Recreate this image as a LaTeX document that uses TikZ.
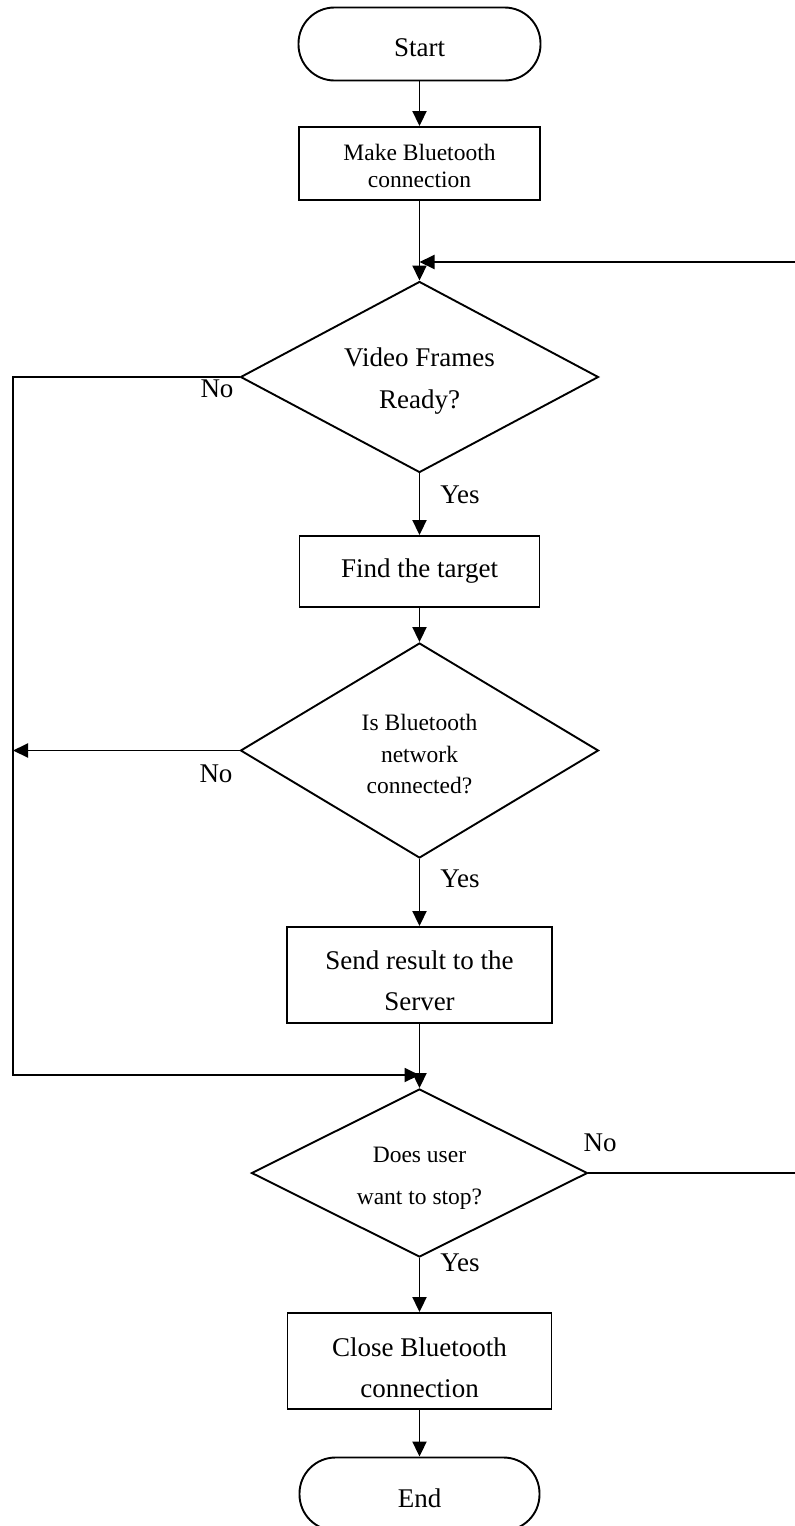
\documentclass[tikz,border=0pt]{standalone}
\usepackage{fontspec}
\setmainfont{Liberation Serif}
\usetikzlibrary{shapes.geometric,arrows.meta}

% invisible strut that sets the height of a node's first text line
\newcommand\firstline[1]{\rule{0pt}{#1}}

\begin{document}
\begin{tikzpicture}[x=1pt,y=-1pt,
  line width=1.9pt,
  flow/.style={-{Triangle[length=15pt,width=14pt]}},
  terminal/.style={draw, rectangle, rounded corners=36pt, minimum width=242pt,
    minimum height=73pt, inner sep=0pt, font=\fontsize{27}{41}\selectfont},
  process/.style={draw, rectangle, inner sep=0pt, align=center,
    font=\fontsize{27}{41}\selectfont},
  decision/.style={draw, diamond, inner sep=0pt, align=center},
  answer/.style={inner sep=0pt, font=\fontsize{27}{32}\selectfont},
]
\useasboundingbox (0,0) rectangle (795,1526);
\clip (0,0) rectangle (795,1526);

% main column
\node[terminal] (start) at (419.5,44) {\firstline{26pt}Start};
\node[process, minimum width=241pt, minimum height=73pt,
  font=\fontsize{23.5}{27}\selectfont] (make) at (419.5,163.5)
  {\firstline{22pt}Make Bluetooth\\connection};
\node[decision, minimum width=358pt, minimum height=191pt, aspect=1.87,
  font=\fontsize{27}{42}\selectfont] (frames) at (419.5,377)
  {\firstline{26.5pt}Video Frames\\Ready?};
\node[process, minimum width=240pt, minimum height=71pt] (find) at (419.5,571.5) {Find the target};
\node[decision, minimum width=358pt, minimum height=215pt, aspect=1.665,
  font=\fontsize{23.5}{31.5}\selectfont] (linked) at (419.5,750.5)
  {\firstline{24pt}Is Bluetooth\\network\\connected?};
\node[process, minimum width=265pt, minimum height=96pt] (send) at (419.5,975)
  {\firstline{30.5pt}Send result to the\\Server};
\node[decision, minimum width=336pt, minimum height=168pt, aspect=2,
  font=\fontsize{23.5}{42}\selectfont] (stop) at (419.5,1173)
  {\firstline{26pt}Does user\\want to stop?};
\node[process, minimum width=264pt, minimum height=96pt] (close) at (419.5,1361)
  {\firstline{32.5pt}Close Bluetooth\\connection};
\node[terminal, minimum width=240pt] (end) at (419.5,1494) {\firstline{26.5pt}End};

% branch labels
\node[answer] (no1) at (217,389) {No};
\node[answer] (yes1) at (460,495) {Yes};
\node[answer] (no2) at (216,774) {No};
\node[answer] (yes2) at (460,879) {Yes};
\node[answer] (no3) at (600,1143) {No};
\node[answer] (yes3) at (460,1263) {Yes};

% junction points and side rails
\coordinate (loopin) at (419.5,262);
\coordinate (merge) at (419.5,1075);
\coordinate (leftrail) at (13,0);
\coordinate (rightrail) at (801,0);

% connectors
\draw[flow] (start.south) -- (make.north);
\draw[flow] (make.south) -- (frames.north);
\draw[flow] (frames.south) -- (find.north);
\draw[flow] (find.south) -- (linked.north);
\draw[flow] (linked.south) -- (send.north);
\draw[flow] (send.south) -- (stop.north);
\draw[flow] (stop.south) -- (close.north);
\draw[flow] (close.south) -- (end.north);
\draw[flow] (stop.east) -- (stop.east -| rightrail) -- (rightrail |- loopin) -- (loopin);
\draw[flow] (frames.west) -- (frames.west -| leftrail) -- (leftrail |- merge) -- (merge);
\draw[flow] (linked.west) -- (linked.west -| leftrail);
\end{tikzpicture}
\end{document}
